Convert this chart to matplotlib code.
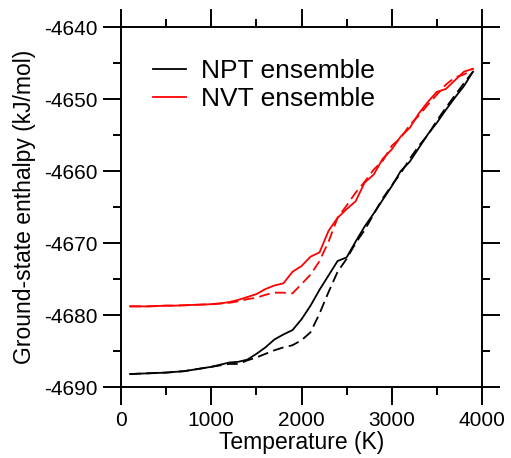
import matplotlib
matplotlib.use('Agg')
import matplotlib.pyplot as plt
from matplotlib.ticker import MultipleLocator

plt.rcParams['font.family'] = ['Liberation Sans', 'DejaVu Sans']
plt.rcParams['axes.unicode_minus'] = False  # plain hyphen like the original

# Temperature grid (K)
temps = [100, 200, 300, 400, 500, 600, 700, 800, 900, 1000,
         1100, 1200, 1300, 1400, 1500, 1600, 1700, 1800, 1900, 2000,
         2100, 2200, 2300, 2400, 2500, 2600, 2700, 2800, 2900, 3000,
         3100, 3200, 3300, 3400, 3500, 3600, 3700, 3800, 3900]

# NPT ensemble, solid and dashed runs (kJ/mol)
npt_solid = [-4688.2, -4688.15, -4688.1, -4688.05, -4688.0, -4687.9, -4687.8, -4687.6, -4687.4, -4687.2,
             -4686.9, -4686.6, -4686.5, -4686.2, -4685.4, -4684.5, -4683.4, -4682.7, -4682.1, -4680.6,
             -4678.7, -4676.5, -4674.5, -4672.5, -4672.0, -4669.8, -4667.7, -4665.9, -4664.0, -4662.1,
             -4660.0, -4658.7, -4656.8, -4654.9, -4653.3, -4651.5, -4649.8, -4648.2, -4646.2]
npt_dashed = [-4688.2, -4688.15, -4688.1, -4688.05, -4688.0, -4687.9, -4687.8, -4687.6, -4687.4, -4687.2,
              -4687.0, -4686.8, -4686.8, -4686.3, -4685.9, -4685.4, -4684.9, -4684.5, -4684.2, -4683.5,
              -4682.4, -4679.8, -4676.8, -4674.0, -4672.2, -4670.0, -4668.2, -4666.0, -4663.8, -4662.0,
              -4660.3, -4658.3, -4656.5, -4655.0, -4653.0, -4651.2, -4649.5, -4647.8, -4646.2]

# NVT ensemble, solid and dashed runs (kJ/mol)
nvt_solid = [-4678.8, -4678.8, -4678.8, -4678.75, -4678.7, -4678.7, -4678.65, -4678.6, -4678.55, -4678.5,
             -4678.4, -4678.2, -4677.9, -4677.5, -4677.1, -4676.4, -4675.9, -4675.6, -4674.0, -4673.2,
             -4671.9, -4671.3, -4668.3, -4666.5, -4665.3, -4664.2, -4661.6, -4660.5, -4658.3, -4657.0,
             -4655.2, -4654.0, -4652.0, -4650.4, -4649.0, -4648.6, -4647.4, -4646.2, -4645.8]
nvt_dashed = [-4678.8, -4678.8, -4678.8, -4678.75, -4678.7, -4678.7, -4678.65, -4678.6, -4678.55, -4678.5,
              -4678.4, -4678.3, -4678.1, -4677.8, -4677.6, -4677.2, -4676.9, -4676.9, -4677.0, -4675.7,
              -4674.4, -4672.5, -4669.8, -4666.5, -4664.8, -4663.0, -4661.5, -4659.8, -4658.6, -4656.5,
              -4655.4, -4653.6, -4652.3, -4650.8, -4649.4, -4648.0, -4647.0, -4646.6, -4645.8]

fig = plt.figure(figsize=(5.11, 4.58), dpi=100)
ax = fig.add_axes([121 / 511, (458 - 387) / 458, 361 / 511, 360 / 458])

lw = 1.3
ax.plot(temps, npt_solid, color='black', lw=lw, label='NPT ensemble')
ax.plot(temps, nvt_solid, color='red', lw=lw, label='NVT ensemble')
ax.plot(temps, npt_dashed, color='black', lw=lw, dashes=(6, 3))
ax.plot(temps, nvt_dashed, color='red', lw=lw, dashes=(6, 3))

ax.set_xlim(0, 4000)
ax.set_ylim(-4690, -4640)
ax.xaxis.set_major_locator(MultipleLocator(1000))
ax.xaxis.set_minor_locator(MultipleLocator(500))
ax.yaxis.set_major_locator(MultipleLocator(10))
ax.yaxis.set_minor_locator(MultipleLocator(5))

for s in ax.spines.values():
    s.set_linewidth(1.4)
ax.tick_params(which='both', direction='out', top=True, right=True, width=1.4)
ax.tick_params(which='major', length=13, labelsize=15, pad=4)
ax.tick_params(which='minor', length=6)

ax.set_xlabel('Temperature (K)', fontsize=16.5, labelpad=1)
ax.set_ylabel('Ground-state enthalpy (kJ/mol)', fontsize=16.5, labelpad=6)

ax.legend(loc='upper left', bbox_to_anchor=(0.06, 0.94), frameon=False, fontsize=19,
          handlelength=1.25, handletextpad=0.55, labelspacing=0.15, borderaxespad=0)

fig.savefig('out.png', dpi=100)
